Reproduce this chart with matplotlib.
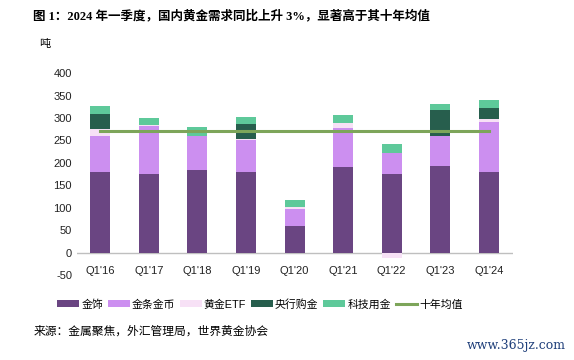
import numpy as np
import matplotlib.pyplot as plt

plt.rcParams['font.family'] = ['Liberation Sans', 'Noto Sans CJK SC']
plt.rcParams['axes.unicode_minus'] = False

quarters = ["Q1'16", "Q1'17", "Q1'18", "Q1'19", "Q1'20", "Q1'21", "Q1'22", "Q1'23", "Q1'24"]
jewellery = [180, 176, 184, 180, 60, 192, 176, 194, 180]
bar_coin = [81, 106, 77, 72, 37, 86, 47, 66, 112]
etf = [14, 2, 0, 1, 4, 10, -11, 0, 5]
central_bank = [34, 0, 0, 33, 0, 0, 0, 57, 26]
technology = [18, 17, 20, 16, 17, 18, 20, 14, 18]
ten_year_avg = 272
yticks = [-50, 0, 50, 100, 150, 200, 250, 300, 350, 400]

names = ['金饰', '金条金币', '黄金ETF', '央行购金', '科技用金']
colors = ['#6a4582', '#cc8ff0', '#f7e1f6', '#275e4d', '#5ec99a']

fig = plt.figure(figsize=(5.74, 3.6), dpi=100)
ax = fig.add_axes([0.134, 0.233, 0.76, 0.564])

x = np.arange(len(quarters))
w = 0.41
pos_base = np.zeros(len(quarters))
neg_base = np.zeros(len(quarters))
for name, vals, c in zip(names, [jewellery, bar_coin, etf, central_bank, technology], colors):
    vals = np.array(vals, dtype=float)
    bottoms = np.where(vals >= 0, pos_base, neg_base)
    ax.bar(x, vals, w, bottom=bottoms, color=c, label=name, zorder=2)
    pos_base += np.where(vals >= 0, vals, 0)
    neg_base += np.where(vals < 0, vals, 0)

ax.plot([x[0], x[-1]], [ten_year_avg, ten_year_avg], color='#7da55a', lw=2.2,
        label='十年均值', zorder=3)

ax.axhline(0, color='#bfbfbf', lw=1, zorder=1)
ax.set_xlim(-0.48, 8.5)
ax.set_ylim(-52, 400)
ax.set_yticks(yticks)
ax.set_yticklabels([str(v) for v in yticks])
ax.set_xticks(x)
ax.set_xticklabels(quarters)
ax.tick_params(length=0, labelsize=8, colors='#222222')
ax.tick_params(axis='x', pad=-7.5)
for s in ax.spines.values():
    s.set_visible(False)

fig.text(0.058, 0.955, '图 1：2024 年一季度，国内黄金需求同比上升 3%，显著高于其十年均值',
         fontsize=9, fontweight='bold', va='center',
         family=['Liberation Serif', 'Noto Sans CJK SC'])
fig.text(0.068, 0.878, '吨', fontsize=8, va='center')

# bars first, average line last
handles, labels = ax.get_legend_handles_labels()
handles = handles[1:] + handles[:1]
labels = labels[1:] + labels[:1]
ax.legend(handles, labels, loc='center', bbox_to_anchor=(0.42, -0.138), ncol=6,
          frameon=False, fontsize=7.8, handlelength=2.0, handleheight=0.55,
          handletextpad=0.2, columnspacing=0.45)

fig.text(0.058, 0.078, '来源：金属聚焦，外汇管理局，世界黄金协会', fontsize=8.5,
         style='italic', va='center')
fig.text(0.985, 0.04, 'www.365jz.com', fontsize=9, color='#1f3f7a',
         family='DejaVu Serif', ha='right', va='center')

fig.savefig('out.png', dpi=100)
